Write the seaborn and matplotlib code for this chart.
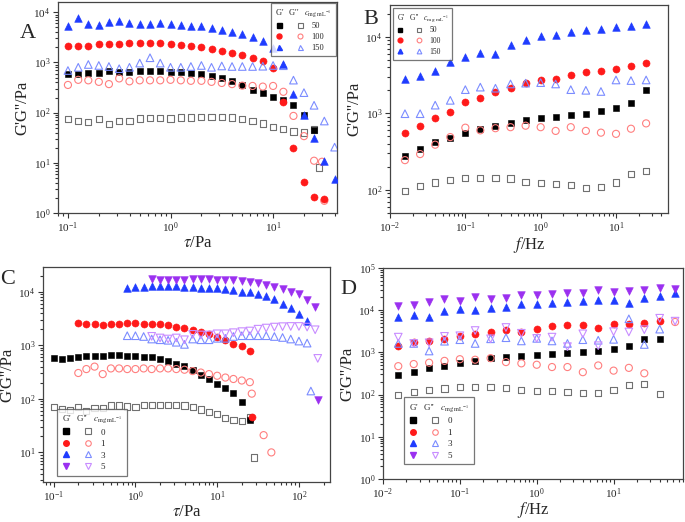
import matplotlib
matplotlib.use("Agg")
import matplotlib.pyplot as plt
import seaborn as sns
from matplotlib.lines import Line2D
from matplotlib.legend_handler import HandlerTuple
from matplotlib.ticker import NullFormatter

# --- Panel A: stress sweep, c = 50/100/150 ---
tau_A = [0.1, 0.126, 0.158, 0.2, 0.251, 0.316, 0.398, 0.501, 0.631, 0.794,
         1.0, 1.26, 1.58, 2.0, 2.51, 3.16, 3.98, 5.01, 6.31, 7.94,
         10.0, 12.6, 15.8, 20.0, 25.1, 31.6, 39.8]
A150_Gp = [5430, 7700, 5900, 5600, 6500, 6600, 6050, 5900, 5900, 6000, 5700, 5500, 5400, 5350,
           4900, 4460, 4100, 3660, 3240, 2700, 1930, 940, 238, 89, 31, 10.8, 4.7]
A150_Gpp = [690, 800, 910, 870, 830, 750, 800, 970, 1240, 970, 800, 800, 830, 870, 800, 850,
            830, 830, 830, 840, 870, 860, 444, 250, 140, 68, 20.5]
A100_Gp = [2080, 2150, 2080, 2280, 2280, 2360, 2420, 2460, 2440, 2400, 2320, 2250, 2150, 2000,
           1850, 1690, 1560, 1380, 1240, 1070, 780, 164, 19.6, 4.1, 2.07, 1.9]
A100_Gpp_x = tau_A[:25] + [30.0, 31.6]
A100_Gpp = [356, 450, 440, 410, 370, 480, 420, 440, 440, 440, 450, 440, 430, 430, 410, 390,
            370, 345, 340, 330, 340, 260, 86, 34, 11, 10.5, 1.75]
A50_Gp = [595, 590, 610, 630, 660, 650, 650, 660, 670, 670, 650, 640, 610, 580, 540, 490,
          430, 360, 285, 248, 206, 177, 141, 89, 45]
A50_Gpp_x = tau_A[:25] + [28.0]
A50_Gpp = [74, 69, 64, 74, 60, 69, 69, 76, 78, 77, 76, 80, 80, 81, 82, 81, 80, 74, 68, 61,
           52, 47, 42, 40, 46, 8.1]

# --- Panel B: frequency sweep, c = 50/100/150 ---
f_B = [0.0158, 0.0251, 0.0398, 0.0631, 0.1, 0.158, 0.251, 0.398, 0.631, 1.0,
       1.58, 2.51, 3.98, 6.31, 10.0, 15.8, 25.1]
B150_Gp = [2850, 3030, 3550, 4690, 5390, 6070, 5960, 7720, 9050, 10200, 10700, 11400, 12200,
           12700, 13500, 14000, 14750]
B150_Gpp = [990, 990, 1280, 1480, 2040, 2200, 2130, 2420, 2480, 2520, 2420, 2040, 2000, 1930,
            2730, 2680, 2730]
B100_Gp = [556, 680, 860, 1050, 1420, 1570, 1880, 2150, 2520, 2730, 2850, 3210, 3480, 3620,
           3770, 4160, 4500]
B100_Gpp = [245, 294, 390, 490, 650, 600, 640, 660, 690, 660, 590, 660, 590, 560, 540, 630, 740]
B50_Gp = [280, 346, 420, 480, 550, 630, 680, 750, 810, 860, 900, 950, 990, 1060, 1180, 1380, 2030]
B50_Gpp = [98, 113, 125, 136, 144, 144, 143, 141, 126, 123, 119, 116, 106, 110, 125, 163, 177]

# --- Panel C: stress sweep, c = 0/1/3/5 ---
tau_C = [0.1, 0.126, 0.158, 0.2, 0.251, 0.316, 0.398, 0.501, 0.631, 0.794,
         1.0, 1.26, 1.58, 2.0, 2.51, 3.16, 3.98, 5.01, 6.31, 7.94,
         10.0, 12.6, 15.8, 20.0, 25.1, 31.6, 39.8, 50.1, 63.1, 79.4, 100, 126, 158]
C0_Gp = [570, 555, 570, 610, 640, 640, 640, 650, 650, 640, 640, 610, 600, 555, 510, 450,
         410, 340, 280, 235, 190, 160, 130, 88, 40]
C0_Gpp_x = tau_C[:25] + [28.0]
C0_Gpp = [70, 65, 61, 70, 59, 67, 67, 75, 75, 72, 71, 77, 77, 77, 78, 77, 75, 70, 63, 57,
          52, 44, 40, 38, 45, 8]
C1_Gp_x = tau_C[3:25] + [26.5]
C1_Gp = [2600, 2530, 2530, 2390, 2470, 2530, 2560, 2560, 2530, 2470, 2470, 2350, 2200, 2070,
         1900, 1740, 1600, 1460, 1230, 1080, 965, 790, 45]
C1_Gpp_x = tau_C[3:25] + [26.5, 37.0, 46.0]
C1_Gpp = [304, 360, 400, 290, 370, 370, 360, 360, 370, 360, 370, 370, 360, 350, 330, 310,
          290, 270, 250, 235, 220, 205, 125, 21, 10]
C3_Gp = [12000, 12200, 12200, 12800, 13000, 13000, 12800, 12500, 12200, 12000, 11800, 11800,
         11500, 10800, 10000, 9700, 8900, 8200, 7300, 6000, 4900, 3900, 2830]
C3_Gpp_x = tau_C[9:32] + [140.0]
C3_Gpp = [1510, 1510, 1460, 1310, 1270, 1240, 1140, 1040, 1310, 1270, 1270, 1350, 1350, 1460,
          1510, 1510, 1510, 1510, 1460, 1400, 1310, 1200, 1100, 140]
C5_Gp_x = tau_C[12:33] + [170.0]
C5_Gp = [17200, 16800, 16600, 16800, 16800, 17000, 17000, 17000, 16800, 16800, 16600, 15800,
         15400, 14600, 13500, 12200, 11200, 10000, 8900, 7100, 5170, 94]
C5_Gpp = [1470, 1370, 1310, 1370, 1270, 1600, 1560, 1560, 1640, 1640, 1720, 1800, 1850, 2000,
          2100, 2190, 2230, 2250, 2250, 2190, 1950, 570]

# --- Panel D: frequency sweep, c = 0/1/3/5 ---
f_D = [0.0158, 0.0251, 0.0398, 0.0631, 0.1, 0.158, 0.251, 0.398, 0.631, 1.0,
       1.58, 2.51, 3.98, 6.31, 10.0, 15.8, 25.1, 39.8, 63.1]
D5_Gp = [12300, 13400, 16000, 18800, 16300, 20000, 18100, 19500, 23500, 23100, 24000, 25600,
         26100, 30500, 27000, 29000, 30000, 32800, 31600]
D5_Gpp = [2300, 1630, 1690, 2400, 2480, 3300, 2100, 3900, 2840, 2150, 2300, 1370, 2760, 1440,
          3100, 3050, 3450, 6450, 5500]
D3_Gp = [6900, 7560, 6800, 9400, 10700, 10000, 11500, 11900, 14200, 14200, 14800, 15800, 16400,
         17000, 17500, 15200, 19400, 21500, 25400]
D3_Gpp = [1630, 1630, 1080, 1840, 2000, 1630, 2100, 2230, 1870, 2150, 1870, 1630, 2000, 1940,
          2040, 6240, 1540, 3560]
D1_Gp = [1410, 1800, 1880, 2100, 2470, 2760, 3060, 3400, 3060, 3630, 4190, 4350, 4460, 3750,
         4800, 4800, 5000, 5550]
D1_Gpp_x = f_D[:17] + [63.1]
D1_Gpp = [472, 530, 570, 630, 690, 670, 730, 590, 550, 510, 450, 450, 340, 490, 370, 430, 320, 5250]
D0_Gp = [285, 350, 420, 480, 550, 640, 740, 780, 840, 880, 930, 960, 1030, 1080, 1190, 1410,
         2040, 2070]
D0_Gpp = [98, 115, 127, 140, 150, 150, 150, 146, 127, 124, 120, 115, 107, 110, 127, 170, 180, 103]

# colours: (filled G', open G'')
colors = {
    "black": ("#000000", "#707070"),
    "red": ("#ff1a1a", "#ff7f7f"),
    "blue": ("#1f3cff", "#7b8cff"),
    "purple": ("#9b30f0", "#c88cff"),
}
markers = {"black": "s", "red": "o", "blue": "^", "purple": "v"}
sizes = {"black": 20, "red": 26, "blue": 30, "purple": 30}

sns.set_style("ticks")
plt.rcParams["font.family"] = ["Liberation Serif", "DejaVu Serif"]
plt.rcParams["mathtext.fontset"] = "stix"

fig = plt.figure(figsize=(6.85, 5.22), dpi=100)
W, H = 685, 522


def px_axes(left, top, right, bottom):
    return fig.add_axes([left / W, 1 - bottom / H, (right - left) / W, (bottom - top) / H])


def pts(ax, x, y, key, filled):
    fc, oc = colors[key]
    if filled:
        sns.scatterplot(x=x, y=y, marker=markers[key], s=sizes[key], color=fc,
                        edgecolor=fc, linewidth=0.4, ax=ax, legend=False, zorder=3)
    else:
        sns.scatterplot(x=x, y=y, marker=markers[key], s=sizes[key], color=oc,
                        facecolor="none", edgecolor=oc, linewidth=0.8, ax=ax,
                        legend=False, zorder=3)


def style(ax, xlim, ylim, xlabel, pad=0):
    ax.set(xscale="log", yscale="log", xlim=xlim, ylim=ylim)
    ax.set_xlabel(xlabel, fontsize=12, labelpad=pad)
    ax.set_ylabel("G'G''/Pa", fontsize=12, labelpad=2)
    ax.tick_params(which="both", direction="out", top=False, right=False,
                   labelsize=8, width=0.8, color="#333333", pad=2)
    ax.tick_params(which="major", length=3.5)
    ax.tick_params(which="minor", length=2)
    ax.xaxis.set_minor_formatter(NullFormatter())
    ax.yaxis.set_minor_formatter(NullFormatter())
    for sp in ax.spines.values():
        sp.set_visible(True)
        sp.set_linewidth(0.9)
        sp.set_color("#444444")


def legend(ax, keys, labels, fs, ms, **kw):
    handles = []
    for k in keys:
        fc, oc = colors[k]
        h1 = Line2D([], [], ls="none", marker=markers[k], color=fc, mec=fc, ms=ms)
        h2 = Line2D([], [], ls="none", marker=markers[k], mfc="none", mec=oc, mew=0.8, ms=ms)
        handles.append((h1, h2))
    leg = ax.legend(handles, labels, handler_map={tuple: HandlerTuple(ndivide=None, pad=1.6)},
                    title=r"G'   G''   $c_{\mathrm{mg\ mL^{-1}}}$", fontsize=fs,
                    title_fontsize=fs, frameon=True, fancybox=False, handlelength=3.4,
                    handletextpad=0.9, labelspacing=0.35, borderpad=0.5, **kw)
    leg.get_frame().set_edgecolor("#555555")
    leg.get_frame().set_linewidth(0.9)
    leg._legend_box.align = "left"
    return leg


axA = px_axes(58, 2, 337, 213)
pts(axA, A50_Gpp_x, A50_Gpp, "black", False)
pts(axA, tau_A[:25], A50_Gp, "black", True)
pts(axA, A100_Gpp_x, A100_Gpp, "red", False)
pts(axA, tau_A[:26], A100_Gp, "red", True)
pts(axA, tau_A, A150_Gpp, "blue", False)
pts(axA, tau_A, A150_Gp, "blue", True)
style(axA, (0.08, 42), (1, 16000), r"$\tau$/Pa")
legend(axA, ["black", "red", "blue"], ["50", "100", "150"], 6, 3.6,
       loc="upper right", bbox_to_anchor=(1.0, 1.0), borderaxespad=0.1)

axB = px_axes(390, 5, 668, 213)
pts(axB, f_B, B50_Gpp, "black", False)
pts(axB, f_B, B50_Gp, "black", True)
pts(axB, f_B, B100_Gpp, "red", False)
pts(axB, f_B, B100_Gp, "red", True)
pts(axB, f_B, B150_Gpp, "blue", False)
pts(axB, f_B, B150_Gp, "blue", True)
style(axB, (0.01, 49), (50, 26000), r"$f$/Hz")
legend(axB, ["black", "red", "blue"], ["50", "100", "150"], 5.5, 3.4,
       loc="upper left", bbox_to_anchor=(0.01, 0.985), borderaxespad=0)

axC = px_axes(43, 267, 330, 482)
pts(axC, C0_Gpp_x, C0_Gpp, "black", False)
pts(axC, tau_C[:25], C0_Gp, "black", True)
pts(axC, C1_Gpp_x, C1_Gpp, "red", False)
pts(axC, C1_Gp_x, C1_Gp, "red", True)
pts(axC, C3_Gpp_x, C3_Gpp, "blue", False)
pts(axC, tau_C[9:32], C3_Gp, "blue", True)
pts(axC, C5_Gp_x, C5_Gpp, "purple", False)
pts(axC, C5_Gp_x, C5_Gp, "purple", True)
style(axC, (0.074, 240), (2.8, 29000), r"$\tau$/Pa")
legend(axC, ["black", "red", "blue", "purple"], ["0", "1", "3", "5"], 6.5, 4,
       loc="lower left", bbox_to_anchor=(0.05, 0.03), borderaxespad=0)

axD = px_axes(383, 268, 683, 479)
pts(axD, f_D[:18], D0_Gpp, "black", False)
pts(axD, f_D[:18], D0_Gp, "black", True)
pts(axD, D1_Gpp_x, D1_Gpp, "red", False)
pts(axD, f_D[:18], D1_Gp, "red", True)
pts(axD, f_D[:18], D3_Gpp, "blue", False)
pts(axD, f_D, D3_Gp, "blue", True)
pts(axD, f_D, D5_Gpp, "purple", False)
pts(axD, f_D, D5_Gp, "purple", True)
style(axD, (0.01, 80), (1, 100000), r"$f$/Hz", pad=-1)
legend(axD, ["black", "red", "blue", "purple"], ["0", "1", "3", "5"], 6.5, 4,
       loc="lower left", bbox_to_anchor=(0.07, 0.07), borderaxespad=0)

for letter, x, y in [("A", 20, 38), ("B", 363, 24), ("C", 0, 284), ("D", 340, 294)]:
    fig.text(x / W, 1 - y / H, letter, fontsize=16, ha="left", va="baseline")

fig.savefig("out.png", dpi=100)
